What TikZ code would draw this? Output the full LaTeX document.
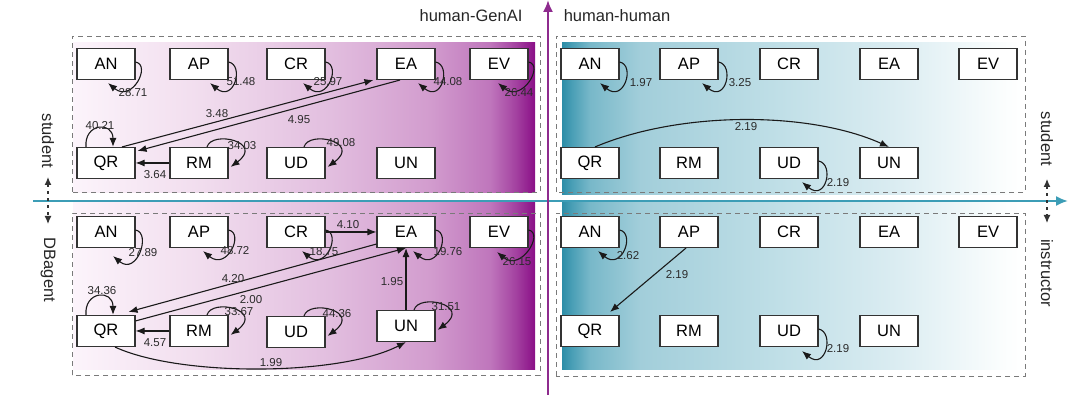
\documentclass[tikz,border=0pt]{standalone}
\usepackage{fontspec}
\setmainfont{Liberation Sans}
\usetikzlibrary{arrows.meta,calc}
\definecolor{boxgray}{HTML}{333333}
\definecolor{edgecol}{HTML}{1A1A1A}
\definecolor{labcol}{HTML}{2B2B2B}
\definecolor{dashcol}{HTML}{7A7A7A}
\definecolor{tealax}{HTML}{3C9DB6}
\definecolor{purpax}{HTML}{8E2B8E}
\definecolor{pA}{HTML}{FCF4FB}
\definecolor{pB}{HTML}{F1DDEE}
\definecolor{pC}{HTML}{E2BEDF}
\definecolor{pD}{HTML}{D29CCE}
\definecolor{pE}{HTML}{BF76BC}
\definecolor{pF}{HTML}{A443A1}
\definecolor{pG}{HTML}{8A0F87}
\definecolor{tA}{HTML}{2C8DA7}
\definecolor{tB}{HTML}{4A9FB6}
\definecolor{tC}{HTML}{78B8C9}
\definecolor{tD}{HTML}{A2CEDA}
\definecolor{tE}{HTML}{C0DFE7}
\definecolor{tF}{HTML}{DCEDF2}
\definecolor{tG}{HTML}{FAFDFD}
\definecolor{tH}{HTML}{FFFFFF}
\pgfdeclarehorizontalshading{purpshade}{100bp}{color(0bp)=(pA); color(25bp)=(pA); color(38.75bp)=(pB); color(52.8bp)=(pC); color(63.65bp)=(pD); color(70.15bp)=(pE); color(72.85bp)=(pF); color(75bp)=(pG); color(100bp)=(pG)}
\pgfdeclarehorizontalshading{tealshade}{100bp}{color(0bp)=(tA); color(25bp)=(tA); color(26.1bp)=(tB); color(28.05bp)=(tC); color(33.5bp)=(tD); color(48.7bp)=(tE); color(61.75bp)=(tF); color(72.6bp)=(tG); color(75bp)=(tH); color(100bp)=(tH)}
\newcommand\loopES[3]{\draw[ed] ([yshift=2]#1.east) .. controls +(16,-3) and +(24,-20) .. ([xshift=#2,yshift=#3]#1.south);}
\newcommand\loopTop[1]{\draw[ed] ([xshift=-20]#1.north) .. controls +(-2,24) and +(0,26) .. ([xshift=7]#1.north);}
\newcommand\loopTE[1]{\draw[ed] ([xshift=8]#1.north) .. controls +(5,17) and +(34,25) .. ([xshift=2,yshift=-4]#1.east);}
\begin{document}
\begin{tikzpicture}[x=1pt,y=1pt,
  st/.style={draw=boxgray, line width=1.1pt, fill=white, minimum width=58pt, minimum height=31pt, inner sep=0pt, font=\fontsize{16.5}{18}\selectfont},
  ed/.style={draw=edgecol, line width=1.1pt, -{Latex[length=9pt,width=7pt]}},
  lbl/.style={font=\fontsize{11.5}{12}\selectfont, text=labcol, inner sep=0pt},
  axl/.style={font=\fontsize{16.5}{18}\selectfont, text=black!85, inner sep=0pt},
  dbox/.style={draw=dashcol, line width=0.8pt, dash pattern=on 5pt off 4pt},
  sidearr/.style={draw=black!80, line width=1.2pt, dash pattern=on 3pt off 4pt, {Latex[length=8pt,width=7pt]}-{Latex[length=8pt,width=7pt]}}]
\useasboundingbox (0,0) rectangle (1080,401);
\fill[white] (0,0) rectangle (1080,401);
% backgrounds
\shade[shading=purpshade] (73,208) rectangle (535,358);
\shade[shading=purpshade] (73,31) rectangle (535,198);
\shade[shading=tealshade] (562,206) rectangle (1022,358);
\shade[shading=tealshade] (562,31) rectangle (1022,199);
% dashed boxes
\draw[dbox] (72,209) rectangle (540,365);
\draw[dbox] (72,26) rectangle (540,188);
\draw[dbox] (556,209) rectangle (1025,365);
\draw[dbox] (556,25) rectangle (1025,188);
% axes
\coordinate (tx0) at (33,200);
\coordinate (tx1) at (1068,200);
\draw[draw=tealax, line width=2pt, -{Latex[length=12pt,width=10pt]}] (tx0) -- (tx1);
\coordinate (py0) at (548,6);
\coordinate (py1) at (548,401);
\draw[draw=purpax, line width=2pt, -{Latex[length=12pt,width=10pt]}] (py0) -- (py1);
% axis labels
\node[axl] (hg) at (471,385) {human-GenAI};
\node[axl] (hh) at (617,385) {human-human};
\node[axl, rotate=-90] (ls) at (48,260) {student};
\node[axl, rotate=-90] (ld) at (48,131) {DBagent};
\node[axl, rotate=-90] (rs) at (1047,262) {student};
\node[axl, rotate=-90] (ri) at (1047,128) {instructor};
\coordinate (la1) at (48,224);
\coordinate (la2) at (48,177);
\draw[sidearr] (la1) -- (la2);
\coordinate (ra1) at (1047,222);
\coordinate (ra2) at (1047,178);
\draw[sidearr] (ra1) -- (ra2);
% ---------- GenAI / student
\node[st] (gsAN) at (106,337) {AN};
\node[st] (gsAP) at (199,337) {AP};
\node[st] (gsCR) at (296,337) {CR};
\node[st] (gsEA) at (406,337) {EA};
\node[st] (gsEV) at (499,337) {EV};
\node[st] (gsQR) at (106,238) {QR};
\node[st] (gsRM) at (199,238) {RM};
\node[st] (gsUD) at (296,238) {UD};
\node[st] (gsUN) at (406,238) {UN};
\loopES{gsAN}{2}{-3}
\loopES{gsAP}{11}{-3}
\loopES{gsCR}{7}{-3}
\loopES{gsEA}{12}{-3}
\loopES{gsEV}{-1}{-3}
\loopTop{gsQR}
\loopTE{gsRM}
\loopTE{gsUD}
\draw[ed] (gsRM) -- (gsQR);
\draw[ed] ([xshift=16]gsQR.north) -- ([xshift=-3]gsEA.south west);
\draw[ed] ([xshift=-6]gsEA.south) -- ([xshift=2,yshift=-4]gsQR.north east);
\node[lbl] (l1) at (133,308) {28.71};
\node[lbl] (l2) at (241,319) {51.48};
\node[lbl] (l3) at (328,319) {25.97};
\node[lbl] (l4) at (448,319) {44.08};
\node[lbl] (l5) at (519,308) {26.44};
\node[lbl] (l6) at (217,287) {3.48};
\node[lbl] (l7) at (299,281) {4.95};
\node[lbl] (l8) at (100,275) {40.21};
\node[lbl] (l9) at (242,255) {34.03};
\node[lbl] (l10) at (341,258) {49.08};
\node[lbl] (l11) at (155,226) {3.64};
% ---------- GenAI / DBagent
\node[st] (gdAN) at (106,169) {AN};
\node[st] (gdAP) at (199,169) {AP};
\node[st] (gdCR) at (296,169) {CR};
\node[st] (gdEA) at (406,169) {EA};
\node[st] (gdEV) at (499,169) {EV};
\node[st] (gdQR) at (106,70) {QR};
\node[st] (gdRM) at (199,70) {RM};
\node[st] (gdUD) at (296,69) {UD};
\node[st] (gdUN) at (406,75) {UN};
\loopES{gdAN}{7}{-8}
\loopES{gdAP}{4}{-3}
\loopES{gdCR}{6}{-3}
\loopES{gdEA}{7}{-3}
\loopES{gdEV}{-2}{-4}
\loopTop{gdQR}
\loopTE{gdRM}
\loopTE{gdUD}
\loopTE{gdUN}
\draw[ed] (gdCR) -- (gdEA);
\draw[ed] ([yshift=4]gdEA.south west) -- ([xshift=-7,yshift=3]gdQR.north east);
\draw[ed] ([yshift=-6]gdQR.north east) -- (gdEA.south);
\draw[ed] (gdUN) -- (gdEA);
\draw[ed] (gdRM) -- (gdQR);
\draw[ed] ([xshift=9]gdQR.south) .. controls +(65,-30) and +(-66,-34) .. (gdUN.south);
\node[lbl] (m1) at (143,148) {27.89};
\node[lbl] (m2) at (235,150) {48.72};
\node[lbl] (m3) at (324,149) {18.75};
\node[lbl] (m4) at (448,149) {19.76};
\node[lbl] (m5) at (517,139) {26.15};
\node[lbl] (m6) at (348,176) {4.10};
\node[lbl] (m7) at (233,122) {4.20};
\node[lbl] (m8) at (251,101) {2.00};
\node[lbl] (m9) at (155,58) {4.57};
\node[lbl] (m10) at (271,38) {1.99};
\node[lbl] (m11) at (392,119) {1.95};
\node[lbl] (m12) at (102,110) {34.36};
\node[lbl] (m13) at (239,89) {33.67};
\node[lbl] (m14) at (337,87) {44.36};
\node[lbl] (m15) at (446,94) {31.51};
% ---------- human / student
\node[st] (hsAN) at (590,337) {AN};
\node[st] (hsAP) at (689,337) {AP};
\node[st] (hsCR) at (789,337) {CR};
\node[st] (hsEA) at (889,337) {EA};
\node[st] (hsEV) at (988,337) {EV};
\node[st] (hsQR) at (590,238) {QR};
\node[st] (hsRM) at (689,238) {RM};
\node[st] (hsUD) at (789,238) {UD};
\node[st] (hsUN) at (889,238) {UN};
\loopES{hsAN}{10}{-3}
\loopES{hsAP}{13}{-3}
\loopES{hsUD}{13}{-3}
\draw[ed] ([xshift=5]hsQR.north) .. controls +(85,36) and +(-80,36) .. (hsUN.north);
\node[lbl] (n1) at (641,318) {1.97};
\node[lbl] (n2) at (740,318) {3.25};
\node[lbl] (n3) at (746,274) {2.19};
\node[lbl] (n4) at (838,218) {2.19};
% ---------- human / instructor
\node[st] (hiAN) at (590,169) {AN};
\node[st] (hiAP) at (689,169) {AP};
\node[st] (hiCR) at (789,169) {CR};
\node[st] (hiEA) at (889,169) {EA};
\node[st] (hiEV) at (988,169) {EV};
\node[st] (hiQR) at (590,70) {QR};
\node[st] (hiRM) at (689,70) {RM};
\node[st] (hiUD) at (789,70) {UD};
\node[st] (hiUN) at (889,70) {UN};
\loopES{hiAN}{8}{-3}
\loopES{hiUD}{13}{-4}
\draw[ed] ([xshift=-3]hiAP.south) -- ([xshift=20,yshift=3]hiQR.north);
\node[lbl] (o1) at (628,145) {2.62};
\node[lbl] (o2) at (677,126) {2.19};
\node[lbl] (o3) at (838,52) {2.19};
\end{tikzpicture}
\end{document}
